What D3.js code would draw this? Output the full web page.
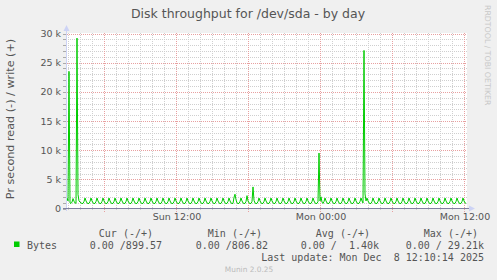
<!DOCTYPE html>
<html>
<head>
<meta charset="utf-8">
<script src="https://d3js.org/d3.v7.min.js"></script>
<style>
  body { margin: 0; background: #f0f0f0; }
  text { font-family: "DejaVu Sans", sans-serif; fill: #555; }
  .mono { font-family: "DejaVu Sans Mono", monospace; white-space: pre; }
</style>
</head>
<body>
<svg id="chart" width="497" height="280"></svg>
<script>
// data: bytes written per second, one value every 5 minutes (read side is 0)
var startTime = new Date(2025, 11, 7, 2, 55);
var endTime = new Date(2025, 11, 8, 12, 15);
var stepMinutes = 5;
var writeBytes = [
  1800,1300,23500,950,870,1100,1700,1250,950,900,29210,2400,
  1300,1100,950,850,870,1200,1800,1300,950,850,870,1200,
  1800,1300,950,850,870,1200,1800,1300,950,850,870,1200,
  1800,1300,950,850,870,1200,1800,1300,950,850,870,1200,
  1800,1300,950,850,870,1200,1800,1300,950,850,870,1200,
  1800,1300,950,850,870,1200,1800,1300,950,850,870,1200,
  1800,1300,950,850,870,1200,1800,1300,950,850,870,1200,
  1800,1300,950,850,870,1200,1800,1300,950,850,870,1200,
  1800,1300,950,850,870,1200,1800,1300,950,850,870,1200,
  1800,1300,950,850,870,1200,1800,1300,950,850,870,1200,
  1800,1300,950,850,870,1200,1800,1300,950,850,870,1200,
  1800,1300,950,850,870,1200,1800,1300,950,850,870,1200,
  1800,1300,950,850,870,1200,1800,1300,950,850,870,1200,
  1800,1300,950,850,870,1200,1800,1300,950,850,870,1900,
  2450,1500,950,850,870,1200,1800,1300,950,850,870,1200,
  2200,1300,950,850,870,1200,3700,1400,950,850,870,1200,
  1800,1300,950,850,870,1200,1800,1300,950,850,870,1200,
  1800,1300,950,850,870,1200,1800,1300,950,850,870,1200,
  1800,1300,950,850,870,1200,1800,1300,950,850,870,1200,
  1800,1300,950,850,870,1200,1800,1300,950,850,870,1200,
  1800,1300,950,850,870,1200,1800,1300,950,850,870,1200,
  9500,1300,2000,1100,870,1200,1800,1300,950,850,870,1200,
  1800,1300,950,850,870,1200,1800,1300,950,850,870,1200,
  1800,1300,950,850,870,1200,1800,1300,950,850,870,1200,
  1800,1300,950,850,870,1200,1800,1300,950,27100,2500,1300,
  1800,1300,950,850,870,1200,1800,1300,950,850,870,1200,
  1800,1300,950,850,870,1200,1800,1300,950,850,870,1200,
  1800,1300,950,850,870,1200,1800,1300,950,850,870,1200,
  1800,1300,950,850,870,1200,1800,1300,950,850,870,1200,
  1800,1300,950,850,870,1200,1800,1300,950,850,870,1200,
  1800,1300,950,850,870,1200,1800,1300,950,850,870,1200,
  1800,1300,950,850,870,1200,1800,1300,950,850,870,1200,
  1800,1300,950,850,870,1200,1800,1300,950,850,870,1200,
  1800,1300,950,900
];
var yTicks = [0, 5000, 10000, 15000, 20000, 25000, 30000];
var yTickLabels = ["0", "5 k", "10 k", "15 k", "20 k", "25 k", "30 k"];
var xTicks = [new Date(2025, 11, 7, 12), new Date(2025, 11, 8, 0), new Date(2025, 11, 8, 12)];
var xTickLabels = ["Sun 12:00", "Mon 00:00", "Mon 12:00"];
var legendHeaders = ["Cur (-/+)", "Min (-/+)", "Avg (-/+)", "Max (-/+)"];
var legendValues = ["0.00 /899.57", "0.00 /806.82", "0.00 /  1.40k", "0.00 / 29.21k"];
var seriesName = "Bytes";
var lastUpdate = "Last update: Mon Dec  8 12:10:14 2025";

var svg = d3.select("#chart");
svg.append("rect").attr("width", 497).attr("height", 280).attr("fill", "#f0f0f0");

var x = d3.scaleTime().domain([startTime, endTime]).range([66.5, 466.5]);
var y = d3.scaleLinear().domain([0, 30000]).range([208.5, 33.5]);

svg.append("rect").attr("x", 67).attr("y", 33).attr("width", 400).attr("height", 175.5).attr("fill", "#fff");

// minor grid
var hours = d3.timeHour.range(d3.timeHour.ceil(startTime), endTime);
svg.append("g").selectAll("line").data(hours.filter(function(d) { return d.getHours() % 6 != 0; }))
  .enter().append("line")
  .attr("x1", function(d) { return Math.round(x(d)) + 0.5; }).attr("x2", function(d) { return Math.round(x(d)) + 0.5; })
  .attr("y1", 33).attr("y2", 210)
  .attr("stroke", "#cfcfcf").attr("stroke-dasharray", "1,1");
var minorY = d3.range(1000, 30001, 1000).filter(function(v) { return v % 5000 != 0; });
svg.append("g").selectAll("line").data(minorY).enter().append("line")
  .attr("x1", 64).attr("x2", 467)
  .attr("y1", function(d) { return Math.round(y(d)) + 0.5; }).attr("y2", function(d) { return Math.round(y(d)) + 0.5; })
  .attr("stroke", "#cfcfcf").attr("stroke-dasharray", "1,1");

// major grid
svg.append("g").selectAll("line").data(hours.filter(function(d) { return d.getHours() % 6 == 0; }))
  .enter().append("line")
  .attr("x1", function(d) { return Math.round(x(d)) + 0.5; }).attr("x2", function(d) { return Math.round(x(d)) + 0.5; })
  .attr("y1", 33).attr("y2", 212)
  .attr("stroke", "#e8a0a0").attr("stroke-dasharray", "1,1");
svg.append("g").selectAll("line").data(yTicks.slice(1)).enter().append("line")
  .attr("x1", 63).attr("x2", 467)
  .attr("y1", function(d) { return Math.round(y(d)) + 0.5; }).attr("y2", function(d) { return Math.round(y(d)) + 0.5; })
  .attr("stroke", "#e8a0a0").attr("stroke-dasharray", "1,1");
// left ticks
svg.append("g").selectAll("line").data(d3.range(0, 30001, 1000)).enter().append("line")
  .attr("x1", 63).attr("x2", 66)
  .attr("y1", function(d) { return Math.round(y(d)) + 0.5; }).attr("y2", function(d) { return Math.round(y(d)) + 0.5; })
  .attr("stroke", "#aaa");

// data line
var line = d3.line()
  .x(function(d, i) { return x(new Date(startTime.getTime() + i * stepMinutes * 60000)) + 0.5; })
  .y(function(d) { return y(d); });
svg.append("path").datum(writeBytes).attr("d", line)
  .attr("fill", "none").attr("stroke", "#00cc00").attr("stroke-width", 1);

// axes
svg.append("line").attr("x1", 66.5).attr("x2", 66.5).attr("y1", 211).attr("y2", 30)
  .attr("stroke", "#cdd3f5");
svg.append("path").attr("d", "M63.5,31 L66.5,25 L69.5,31 Z").attr("fill", "#cdd3f5");
svg.append("line").attr("x1", 63).attr("x2", 470).attr("y1", 208.5).attr("y2", 208.5)
  .attr("stroke", "#8080a0");
svg.append("path").attr("d", "M469,205.5 L475,208.5 L469,211.5 Z").attr("fill", "#cdd3f5");

// tick labels
svg.append("g").selectAll("text").data(yTicks).enter().append("text")
  .attr("x", 61).attr("y", function(d) { return y(d) + 3.5; })
  .attr("text-anchor", "end").attr("font-size", "9.5px")
  .text(function(d, i) { return yTickLabels[i]; });
svg.append("g").selectAll("text").data(xTicks).enter().append("text")
  .attr("x", function(d) { return x(d) + 1.5; }).attr("y", 220)
  .attr("text-anchor", "middle").attr("font-size", "9.5px")
  .text(function(d, i) { return xTickLabels[i]; });

// titles
svg.append("text").attr("x", 248).attr("y", 18).attr("text-anchor", "middle")
  .attr("font-size", "12.5px").text("Disk throughput for /dev/sda - by day");
svg.append("text").attr("transform", "translate(14,119) rotate(-90)").attr("text-anchor", "middle")
  .attr("font-size", "11.2px").text("Pr second read (-) / write (+)");
svg.append("text").attr("transform", "translate(485,5) rotate(90)").attr("text-anchor", "start")
  .attr("font-size", "7.8px").style("fill", "#c8c8c8").text("RRDTOOL / TOBI OETIKER");

// legend
var colEnds = [153, 262, 370, 478];
var valEnds = [162, 268, 379, 484];
svg.append("g").selectAll("text").data(legendHeaders).enter().append("text")
  .attr("class", "mono").attr("x", function(d, i) { return colEnds[i]; }).attr("y", 237)
  .attr("text-anchor", "end").attr("font-size", "10px").text(function(d) { return d; });
svg.append("rect").attr("x", 14).attr("y", 241.5).attr("width", 5.5).attr("height", 5.5).attr("fill", "#00cc00");
svg.append("text").attr("class", "mono").attr("x", 27).attr("y", 248.5).attr("font-size", "10px").text(seriesName);
svg.append("g").selectAll("text").data(legendValues).enter().append("text")
  .attr("class", "mono").attr("x", function(d, i) { return valEnds[i]; }).attr("y", 248.5)
  .attr("text-anchor", "end").attr("font-size", "10px").text(function(d) { return d; });
svg.append("text").attr("class", "mono").attr("x", 484).attr("y", 261).attr("text-anchor", "end")
  .attr("font-size", "10px").text(lastUpdate);
svg.append("text").attr("x", 249).attr("y", 272).attr("text-anchor", "middle")
  .attr("font-size", "7.4px").style("fill", "#bbb").text("Munin 2.0.25");
</script>
</body>
</html>
